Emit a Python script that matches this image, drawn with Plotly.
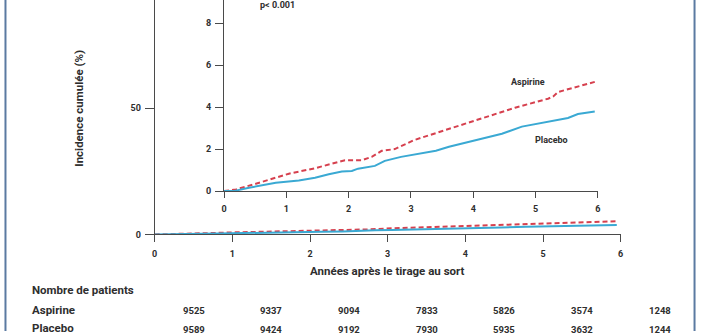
import plotly.graph_objects as go

# Cumulative incidence (%) by years since randomisation
aspirine_t = [0, 0.19, 0.51, 0.83, 1.04, 1.46, 1.68, 1.94, 2.21, 2.37, 2.53, 2.74, 3.05,
              3.61, 4.14, 4.67, 5.20, 5.28, 5.36, 5.95]
aspirine_v = [0, 0.08, 0.35, 0.64, 0.83, 1.09, 1.28, 1.47, 1.47, 1.63, 1.92, 2.00, 2.43,
              2.96, 3.44, 3.97, 4.40, 4.50, 4.72, 5.20]
placebo_t = [0, 0.15, 0.40, 0.83, 1.20, 1.46, 1.68, 1.89, 2.05, 2.15, 2.42, 2.58, 2.84,
             3.05, 3.40, 3.61, 4.14, 4.46, 4.78, 5.20, 5.52, 5.68, 5.95]
placebo_v = [0, 0.0, 0.16, 0.40, 0.51, 0.64, 0.80, 0.93, 0.96, 1.07, 1.20, 1.44, 1.63,
             1.73, 1.92, 2.11, 2.49, 2.73, 3.07, 3.32, 3.48, 3.67, 3.79]

# Number at risk
annees = [0, 1, 2, 3, 4, 5, 6]
n_aspirine = [9525, 9337, 9094, 7833, 5826, 3574, 1248]
n_placebo = [9589, 9424, 9192, 7930, 5935, 3632, 1244]

RED = "#d6404e"
BLUE = "#3aa9d3"
AXIS = "#4a4a4a"
TXT = "#2e2e2e"
FONT = "Roboto"

W, H = 702, 336

def px(x):
    return x / W

def py(y):
    return 1 - y / H

MAIN_X = [px(153), px(623)]
X_MAX = 6

fig = go.Figure()

for xa, ya in (("x", "y"), ("x2", "y2")):
    fig.add_trace(go.Scatter(x=aspirine_t, y=aspirine_v, mode="lines", xaxis=xa, yaxis=ya,
                             line=dict(color=RED, width=2, dash="5px,3px"),
                             showlegend=False, hoverinfo="skip"))
    fig.add_trace(go.Scatter(x=placebo_t, y=placebo_v, mode="lines", xaxis=xa, yaxis=ya,
                             line=dict(color=BLUE, width=2),
                             showlegend=False, hoverinfo="skip"))

tickfont = dict(family=FONT, size=9, color=TXT, weight="bold")
common = dict(showline=True, linecolor=AXIS, linewidth=1, ticks="outside",
              tickcolor=AXIS, tickwidth=1, showgrid=False, zeroline=False,
              tickfont=tickfont, fixedrange=True)

MAIN_Y0 = 238      # pixel row of the main panel's zero line
MAIN_TOP = 92.9    # main value reached at the top edge
INSET_Y0 = 194     # pixel row of the inset's zero line
INSET_TOP = 9.1    # inset value reached at the top edge

fig.update_layout(
    width=W, height=H,
    margin=dict(l=0, r=0, t=0, b=0),
    paper_bgcolor="white", plot_bgcolor="rgba(0,0,0,0)",
    xaxis=dict(domain=MAIN_X, range=[0, X_MAX], tickvals=annees,
               ticklen=7, anchor="y", ticklabelstandoff=4, **common),
    yaxis=dict(domain=[py(MAIN_Y0), 1], range=[0, MAIN_TOP], tickvals=[0, 50],
               ticklen=9, anchor="x", ticklabelstandoff=2, **common),
    xaxis2=dict(domain=[px(223), px(600)], range=[0, X_MAX], tickvals=annees,
                ticklen=6, anchor="y2", ticklabelstandoff=3, **common),
    yaxis2=dict(domain=[py(INSET_Y0), 1], range=[0, INSET_TOP], tickvals=[0, 2, 4, 6, 8],
                ticklen=8, anchor="x2", ticklabelstandoff=2, **common),
)

ann = []

def label(text, x, y, size=11, xanchor="center", **kw):
    ann.append(dict(text=text, x=x, y=y, xref="paper", yref="paper", showarrow=False,
                    xanchor=xanchor, yanchor="middle",
                    font=dict(family=FONT, size=size, color=TXT, weight="bold"), **kw))

label("Années après le tirage au sort", px(388), py(275), size=11.5)
label("Incidence cumulée (%)", px(77), py(110), size=11.5, textangle=-90)
label("p< 0.001", px(257), py(5), size=9, xanchor="left")
label("Aspirine", px(530), py(83), size=9)
label("Placebo", px(553), py(142), size=9)

label("Nombre de patients", px(27), py(294), size=11.5, xanchor="left")
label("Aspirine", px(27), py(315), size=11.5, xanchor="left")
label("Placebo", px(27), py(333), size=11.5, xanchor="left")

# At-risk counts sit midway between the yearly ticks of the main time axis
def year_to_paper(t):
    return MAIN_X[0] + (MAIN_X[1] - MAIN_X[0]) * t / X_MAX

for a, n_a, n_p in zip(annees, n_aspirine, n_placebo):
    label(str(n_a), year_to_paper(a + 0.5), py(315), size=9.5)
    label(str(n_p), year_to_paper(a + 0.5), py(334), size=9.5)

fig.update_layout(annotations=ann)

# Frame rules on the left and right edges
for xe in (2.5, 697.5):
    fig.add_shape(type="line", xref="paper", yref="paper", x0=px(xe), x1=px(xe), y0=0, y1=1,
                  line=dict(color="#5b7aa1", width=2))

fig.write_html("out.html")
